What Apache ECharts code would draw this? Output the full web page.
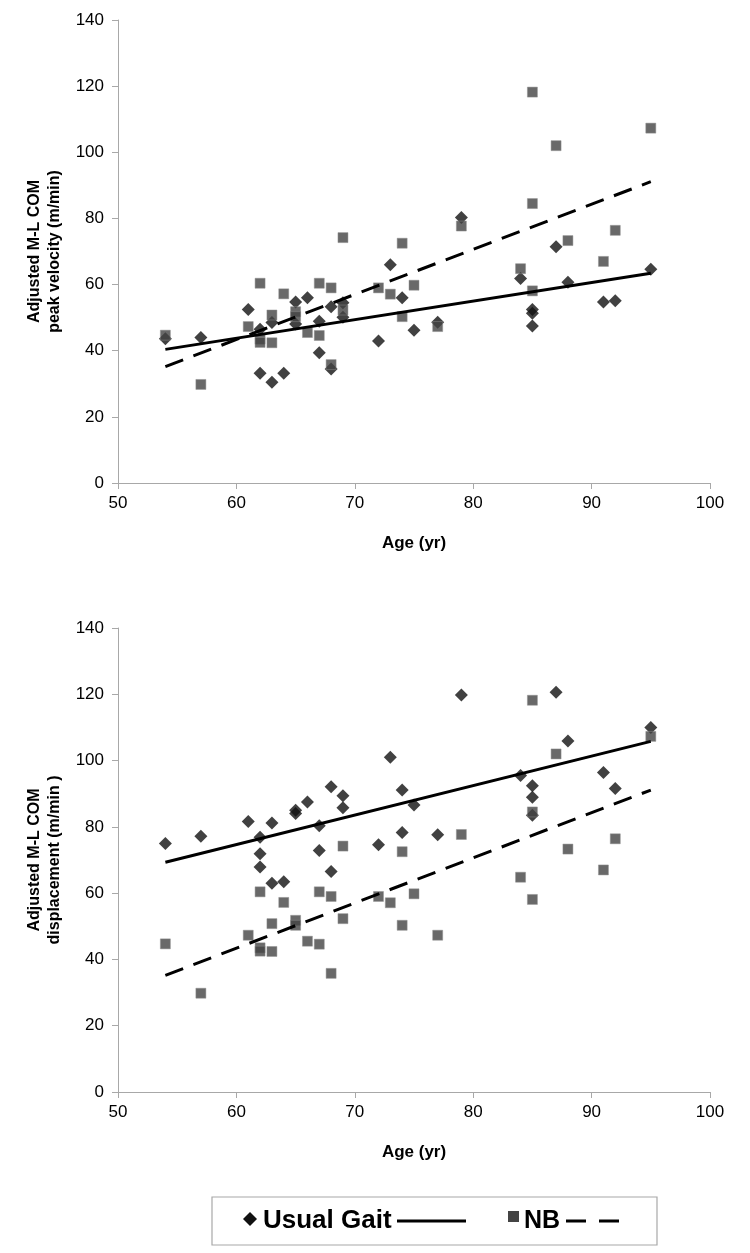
<!DOCTYPE html>
<html>
<head>
<meta charset="utf-8">
<script src="https://cdn.jsdelivr.net/npm/echarts@6/dist/echarts.min.js"></script>
<style>
html,body{margin:0;padding:0;background:#fff;}
#chart{width:750px;height:1253px;}
</style>
</head>
<body>
<div id="chart"></div>
<script>
// ---- Data ----
const xTicks = [50, 60, 70, 80, 90, 100];
const yTicks = [0, 20, 40, 60, 80, 100, 120, 140];

// NB (narrow-base) values — same in both panels
const nbAge = [54, 57, 61, 62, 62, 62, 63, 63, 64, 65, 65, 66, 67, 67, 68, 68, 69, 69, 72, 73, 74, 74, 75, 77, 79, 84, 85, 85, 85, 87, 88, 91, 92, 95];
const nbVal = [44.7, 29.8, 47.3, 60.4, 43.5, 42.5, 50.8, 42.4, 57.2, 51.8, 50.3, 45.5, 60.4, 44.6, 59.0, 35.8, 74.2, 52.3, 59.0, 57.1, 72.5, 50.3, 59.8, 47.3, 77.7, 64.8, 118.2, 84.5, 58.1, 102.0, 73.3, 67.0, 76.4, 107.3];

// Usual gait — peak velocity (top panel)
const ugVelAge = [54, 57, 61, 62, 62, 63, 63, 64, 65, 65, 66, 67, 67, 68, 68, 69, 69, 72, 73, 74, 75, 77, 79, 84, 85, 85, 85, 87, 88, 91, 92, 95];
const ugVelVal = [43.6, 44.0, 52.5, 46.5, 33.2, 48.5, 30.5, 33.2, 54.7, 48.1, 56.0, 48.9, 39.4, 53.3, 34.5, 54.5, 50.1, 42.9, 66.0, 56.0, 46.2, 48.6, 80.3, 61.8, 52.5, 51.3, 47.5, 71.4, 60.7, 54.7, 55.1, 64.6];

// Usual gait — displacement (bottom panel)
const ugDispAge = [54, 57, 61, 62, 62, 62, 63, 63, 64, 65, 65, 66, 67, 67, 68, 68, 69, 69, 72, 73, 74, 74, 75, 77, 79, 84, 85, 85, 85, 87, 88, 91, 92, 95];
const ugDispVal = [75.0, 77.2, 81.6, 76.9, 71.9, 67.9, 81.2, 63.0, 63.4, 85.0, 84.0, 87.5, 80.3, 72.9, 92.1, 66.5, 89.4, 85.8, 74.6, 101.0, 91.1, 78.3, 86.6, 77.6, 119.8, 95.5, 92.4, 88.9, 83.5, 120.6, 105.9, 96.4, 91.6, 110.0];

// Trend-line end points (age, value)
const trendAge = [54, 95];
const ugVelTrend = [40.4, 63.4];
const nbTrend = [35.2, 91.1];
const ugDispTrend = [69.3, 105.8];

// ---- Build ----
const FONT = 'Liberation Sans, Arial, sans-serif';
const pairs = (xs, ys) => xs.map((x, i) => [x, ys[i]]);

function xAxis(gridIndex) {
  return {
    type: 'value', gridIndex, min: xTicks[0], max: xTicks[xTicks.length - 1], interval: 10,
    name: 'Age (yr)', nameLocation: 'middle', nameGap: 52,
    nameTextStyle: { fontFamily: FONT, fontWeight: 'bold', fontSize: 17, color: '#000' },
    axisLine: { show: true, onZero: false, lineStyle: { color: '#a8a8a8', width: 1 } },
    axisTick: { show: true, inside: false, length: 6, lineStyle: { color: '#a8a8a8' } },
    axisLabel: { fontFamily: FONT, fontSize: 17, color: '#000', margin: 12 },
    splitLine: { show: false }
  };
}
function yAxis(gridIndex, name) {
  return {
    type: 'value', gridIndex, min: yTicks[0], max: yTicks[yTicks.length - 1], interval: 20,
    name, nameLocation: 'middle', nameGap: 42,
    nameTextStyle: { fontFamily: FONT, fontWeight: 'bold', fontSize: 16, color: '#000', lineHeight: 20, align: 'center' },
    axisLine: { show: true, onZero: false, lineStyle: { color: '#a8a8a8', width: 1 } },
    axisTick: { show: true, inside: false, length: 6, lineStyle: { color: '#a8a8a8' } },
    axisLabel: { fontFamily: FONT, fontSize: 17, color: '#000', margin: 14 },
    splitLine: { show: false }
  };
}

function panelSeries(i, ugAge, ugVal, ugTrend) {
  return [
    { type: 'scatter', xAxisIndex: i, yAxisIndex: i, symbol: 'diamond', symbolSize: 13,
      itemStyle: { color: '#111' }, data: pairs(ugAge, ugVal), z: 2, silent: true },
    { type: 'scatter', xAxisIndex: i, yAxisIndex: i, symbol: 'rect', symbolSize: 10,
      itemStyle: { color: '#444', borderColor: '#8f8f8f', borderWidth: 0.6 }, data: pairs(nbAge, nbVal), z: 3, silent: true },
    { type: 'line', xAxisIndex: i, yAxisIndex: i, symbol: 'none', data: pairs(trendAge, ugTrend),
      lineStyle: { color: '#000', width: 3 }, z: 4, silent: true },
    { type: 'line', xAxisIndex: i, yAxisIndex: i, symbol: 'none', data: pairs(trendAge, nbTrend),
      lineStyle: { color: '#000', width: 3, type: [19, 11] }, z: 4, silent: true }
  ];
}

const chart = echarts.init(document.getElementById('chart'), null, { renderer: 'canvas' });
chart.setOption({
  animation: false,
  backgroundColor: '#fff',
  grid: [
    { left: 118, width: 592, top: 20, height: 463 },
    { left: 118, width: 592, top: 628, height: 464 }
  ],
  xAxis: [xAxis(0), xAxis(1)],
  yAxis: [
    yAxis(0, 'Adjusted M-L COM\npeak velocity (m/min)'),
    yAxis(1, 'Adjusted M-L COM\ndisplacement (m/min )')
  ],
  series: [].concat(
    panelSeries(0, ugVelAge, ugVelVal, ugVelTrend),
    panelSeries(1, ugDispAge, ugDispVal, ugDispTrend)
  ),
  graphic: [
    { type: 'rect', shape: { x: 212, y: 1197, width: 445, height: 48 },
      style: { fill: '#fff', stroke: '#a8a8a8', lineWidth: 1.2 } },
    { type: 'polygon', shape: { points: [[250, 1212], [257, 1219], [250, 1226], [243, 1219]] }, style: { fill: '#111' } },
    { type: 'text', style: { text: 'Usual Gait', x: 263, y: 1221, verticalAlign: 'middle',
      font: 'bold 26px Liberation Sans, Arial, sans-serif', fill: '#000' } },
    { type: 'line', shape: { x1: 397, y1: 1221, x2: 466, y2: 1221 }, style: { stroke: '#000', lineWidth: 3 } },
    { type: 'rect', shape: { x: 508, y: 1211, width: 11, height: 11 }, style: { fill: '#444' } },
    { type: 'text', style: { text: 'NB', x: 524, y: 1221, verticalAlign: 'middle',
      font: 'bold 25px Liberation Sans, Arial, sans-serif', fill: '#000' } },
    { type: 'line', shape: { x1: 566, y1: 1221, x2: 630, y2: 1221 }, style: { stroke: '#000', lineWidth: 3, lineDash: [20, 13] } }
  ]
});
</script>
</body>
</html>
